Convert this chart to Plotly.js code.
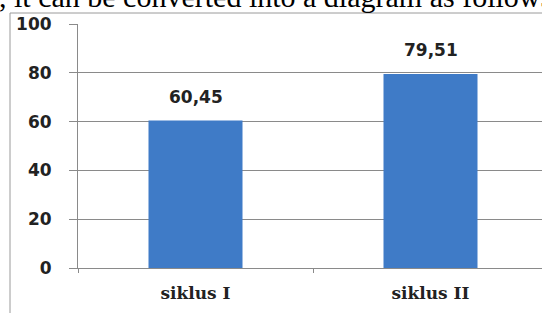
<!DOCTYPE html>
<html><head><meta charset="utf-8">
<script src="https://cdn.plot.ly/plotly-3.0.1.min.js"></script>
<style>html,body{margin:0;padding:0;background:#fff;}#chart{width:542px;height:313px;}</style>
</head><body><div id="chart"></div>
<script>
var categories = ["siklus I", "siklus II"];
var values = [60.45, 79.51];
var valueLabels = ["60,45", "79,51"];
var yTicks = [0, 20, 40, 60, 80, 100];
var headerText = ", it can be converted into a diagram as follows:";

var W = 542, H = 313, L = 78, T = 24, B = 45;
var plotW = W - L, plotH = H - T - B;
function px(x){ return (x - L) / plotW; }
function py(y){ return (H - B - y) / plotH; }

var trace = {
  type: "bar", x: categories, y: values,
  width: 0.4,
  marker: {color: "#3f7bc7", line: {width: 0}},
  hoverinfo: "none"
};

var labelAnnotations = categories.map(function(c, i){
  return {
    x: c, y: values[i], xref: "x", yref: "y",
    xanchor: "center", yanchor: "bottom", yshift: 12,
    text: valueLabels[i], showarrow: false,
    font: {family: "DejaVu Sans", size: 17, color: "#222", weight: 600}
  };
});

var layout = {
  width: W, height: H,
  margin: {l: L, r: 0, t: T, b: B, pad: 0},
  paper_bgcolor: "#fff", plot_bgcolor: "#fff",
  showlegend: false,
  xaxis: {
    type: "category", range: [-0.5, -0.5 + plotW/235],
    showline: true, linecolor: "#8a8a8a", linewidth: 1,
    ticks: "outside", ticklen: 4, tickcolor: "#8a8a8a", tickson: "boundaries",
    showgrid: false, zeroline: false,
    tickfont: {family: "DejaVu Serif", size: 17, color: "#222", weight: "bold"},
    ticklabelstandoff: 10
  },
  yaxis: {
    range: [0, 100], tickvals: yTicks, ticktext: yTicks.map(String),
    showline: true, linecolor: "#8a8a8a", linewidth: 1,
    ticks: "outside", ticklen: 8, tickcolor: "#8a8a8a",
    showgrid: true, gridcolor: "#8a8a8a", gridwidth: 1, zeroline: false,
    tickfont: {family: "DejaVu Sans", size: 17, color: "#222", weight: "bold"},
    ticklabelstandoff: 14
  },
  bargap: 0.6,
  shapes: [{
    type: "rect", xref: "paper", yref: "paper",
    x0: px(10), x1: px(560), y0: py(330), y1: py(13),
    line: {color: "#9a9a9a", width: 1}, fillcolor: "rgba(0,0,0,0)", layer: "below"
  }],
  annotations: [{
    xref: "paper", yref: "paper", x: px(-3), y: py(15),
    xanchor: "left", yanchor: "bottom",
    text: headerText, showarrow: false,
    font: {family: "Liberation Serif", size: 30, color: "#000"}
  }].concat(labelAnnotations)
};
Plotly.newPlot("chart", [trace], layout, {displayModeBar: false, staticPlot: true});
</script></body></html>
